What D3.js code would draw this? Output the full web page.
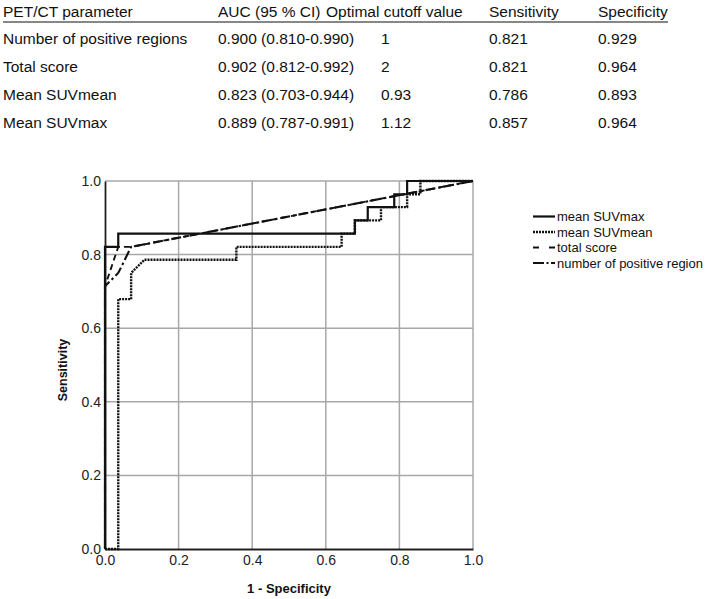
<!DOCTYPE html>
<html><head><meta charset="utf-8">
<script src="https://cdn.jsdelivr.net/npm/d3@7"></script>
<style>html,body{margin:0;padding:0;background:#fff;}svg{display:block;}</style>
</head><body>
<svg id="c" width="709" height="599"></svg>
<script>
// ---- table data ----
const tableHeaders = ["PET/CT parameter", "AUC (95 % CI)", "Optimal cutoff value", "Sensitivity", "Specificity"];
const tableParams = ["Number of positive regions", "Total score", "Mean SUVmean", "Mean SUVmax"];
const tableAUC = ["0.900 (0.810-0.990)", "0.902 (0.812-0.992)", "0.823 (0.703-0.944)", "0.889 (0.787-0.991)"];
const tableCutoff = ["1", "2", "0.93", "1.12"];
const tableSens = ["0.821", "0.821", "0.786", "0.857"];
const tableSpec = ["0.929", "0.964", "0.893", "0.964"];

// ---- ROC data ----
const seriesNames = ["mean SUVmax", "mean SUVmean", "total score", "number of positive region"];
const suvmaxFPR = [0, 0, 0.036, 0.036, 0.679, 0.679, 0.714, 0.714, 0.786, 0.786, 0.821, 0.821, 1];
const suvmaxTPR = [0, 0.821, 0.821, 0.857, 0.857, 0.893, 0.893, 0.929, 0.929, 0.964, 0.964, 1, 1];
const suvmeanFPR = [0, 0.036, 0.036, 0.071, 0.071, 0.107, 0.357, 0.357, 0.643, 0.643, 0.679, 0.679, 0.75, 0.75, 0.821, 0.821, 0.857, 0.857, 1];
const suvmeanTPR = [0, 0, 0.679, 0.679, 0.75, 0.786, 0.786, 0.821, 0.821, 0.857, 0.857, 0.893, 0.893, 0.929, 0.929, 0.964, 0.964, 1, 1];
const totalFPR = [0, 0, 0.036, 0.071, 1];
const totalTPR = [0, 0.714, 0.821, 0.821, 1];
const regionsFPR = [0, 0, 0.036, 0.071, 1];
const regionsTPR = [0, 0.714, 0.75, 0.821, 1];
const tickValues = [0, 0.2, 0.4, 0.6, 0.8, 1.0];

const svg = d3.select("#c");
const FONT = "'Liberation Sans', Arial, sans-serif";

// ---- table ----
const colX = [3, 218, 326, 489, 598];
const tbl = svg.append("g").attr("font-family", FONT).attr("font-size", 15.5).attr("fill", "#111");
tbl.selectAll("text.h").data(tableHeaders).join("text")
  .attr("x", (d, i) => colX[i]).attr("y", 17).text(d => d);
tbl.append("line").attr("x1", 3).attr("x2", 668).attr("y1", 22).attr("y2", 22)
  .attr("stroke", "#111").attr("stroke-width", 1.2);
const rows = tableParams.map((p, i) => [p, tableAUC[i], tableCutoff[i], tableSens[i], tableSpec[i]]);
const rowX = [3, 218, 381, 489, 598];
rows.forEach((r, ri) => {
  tbl.selectAll(null).data(r).join("text")
    .attr("x", (d, i) => rowX[i]).attr("y", 44 + ri * 28).text(d => d);
});

// ---- plot ----
const x = d3.scaleLinear().domain([0, 1]).range([105, 473]);
const y = d3.scaleLinear().domain([0, 1]).range([549, 181]);

const grid = svg.append("g");
grid.selectAll("line.v").data(tickValues.slice(1)).join("line")
  .attr("x1", d => x(d)).attr("x2", d => x(d)).attr("y1", y(0)).attr("y2", y(1))
  .attr("stroke", "#a8a8a8").attr("stroke-width", 1.5);
grid.selectAll("line.h").data(tickValues.slice(1)).join("line")
  .attr("y1", d => y(d)).attr("y2", d => y(d)).attr("x1", x(0)).attr("x2", x(1))
  .attr("stroke", "#a8a8a8").attr("stroke-width", 1.5);

const xAxis = svg.append("g").attr("transform", `translate(0,${y(0)})`)
  .call(d3.axisBottom(x).tickValues(tickValues).tickFormat(d3.format(".1f")).tickSize(0).tickPadding(6));
const yAxis = svg.append("g").attr("transform", `translate(${x(0)},0)`)
  .call(d3.axisLeft(y).tickValues(tickValues).tickFormat(d3.format(".1f")).tickSize(0).tickPadding(4));
[xAxis, yAxis].forEach(a => {
  a.select(".domain").attr("stroke", "#222").attr("stroke-width", 1.8);
  a.selectAll("text").attr("font-family", FONT).attr("font-size", 14).attr("fill", "#222");
});

// axis titles
svg.append("text").attr("x", 289).attr("y", 593).attr("text-anchor", "middle")
  .attr("font-family", FONT).attr("font-weight", "bold").attr("font-size", 13).attr("fill", "#111")
  .text("1 - Specificity");
svg.append("text").attr("transform", "translate(67,370) rotate(-90)").attr("text-anchor", "middle")
  .attr("font-family", FONT).attr("font-weight", "bold").attr("font-size", 12.5).attr("fill", "#111")
  .text("Sensitivity");

// curves
const styles = [
  {dash: null, w: 2.2},
  {dash: "2,1", w: 2.4},
  {dash: "6,4", w: 1.9},
  {dash: "10,3,2.5,3", w: 2.1}
];
const curves = [
  d3.zip(suvmaxFPR, suvmaxTPR),
  d3.zip(suvmeanFPR, suvmeanTPR),
  d3.zip(totalFPR, totalTPR),
  d3.zip(regionsFPR, regionsTPR)
];
const line = d3.line().x(d => x(d[0])).y(d => y(d[1]));
const drawOrder = [1, 2, 3, 0];
drawOrder.forEach(i => {
  svg.append("path").attr("d", line(curves[i])).attr("fill", "none")
    .attr("stroke", "#111").attr("stroke-width", styles[i].w)
    .attr("stroke-dasharray", styles[i].dash);
});

// legend
const legY = [216.5, 232, 247.5, 263];
const leg = svg.append("g");
seriesNames.forEach((n, i) => {
  leg.append("line").attr("x1", 533).attr("x2", 555).attr("y1", legY[i]).attr("y2", legY[i])
    .attr("stroke", "#111").attr("stroke-width", styles[i].w)
    .attr("stroke-dasharray", i === 2 ? "6,10" : (i === 3 ? "11,2.5,2,2.5" : styles[i].dash));
  leg.append("text").attr("x", 557).attr("y", legY[i]).attr("dy", "0.35em")
    .attr("font-family", FONT).attr("font-size", 13).attr("fill", "#111").text(n);
});
</script>
</body></html>
